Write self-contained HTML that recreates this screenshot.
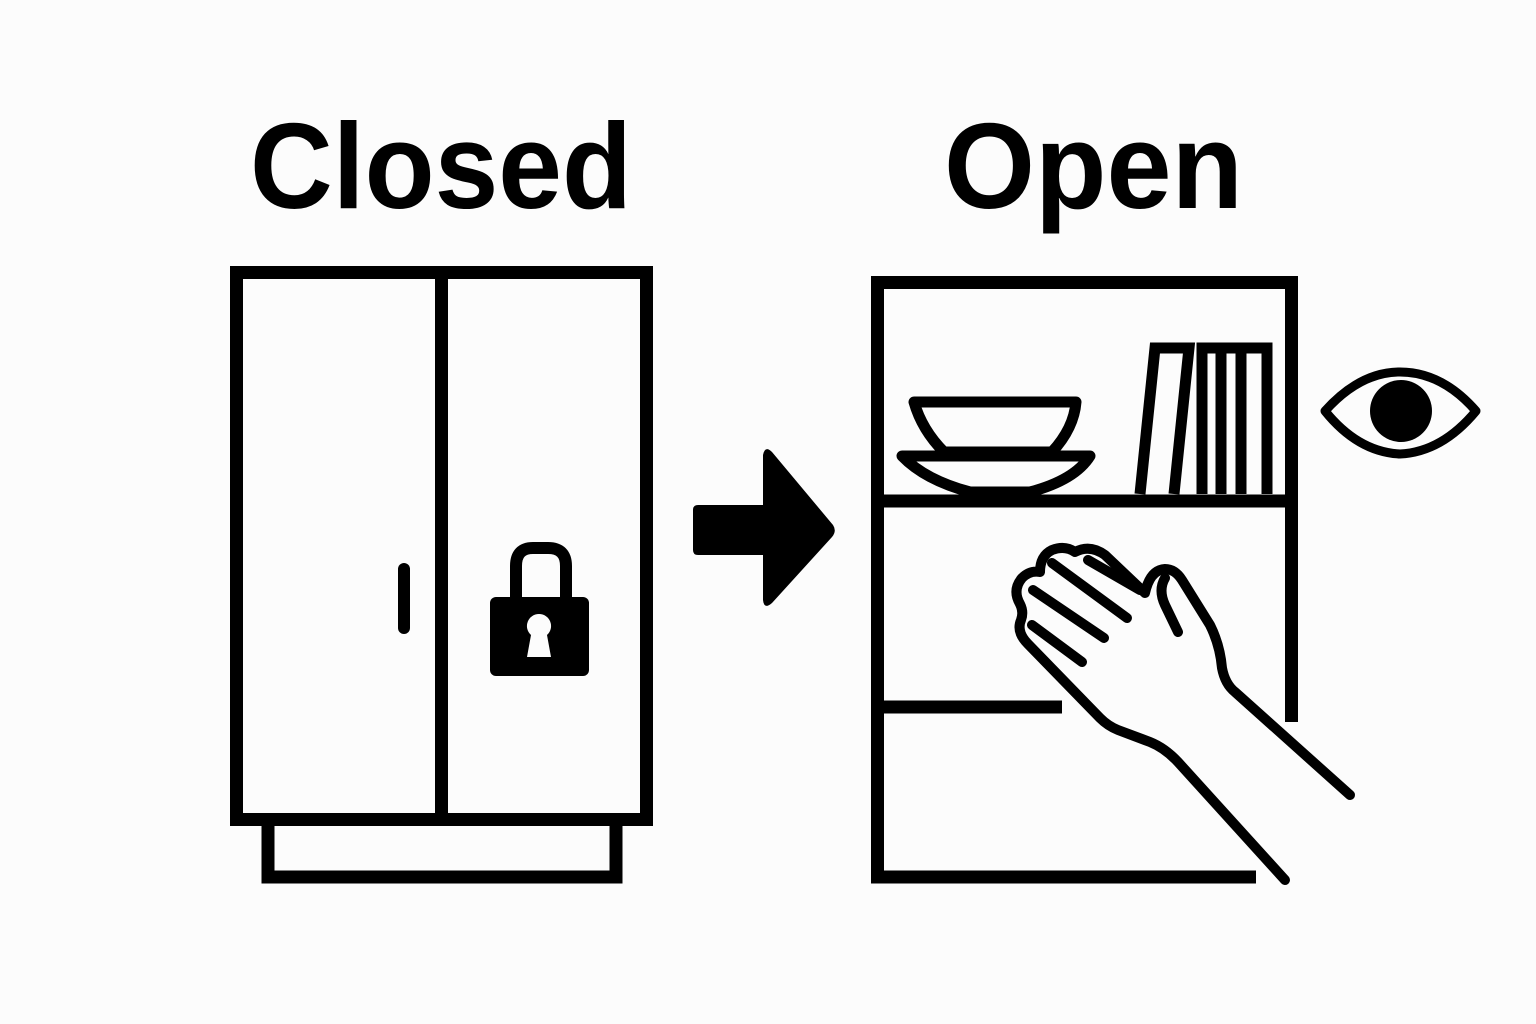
<!DOCTYPE html>
<html><head><meta charset="utf-8"><style>
html,body{margin:0;padding:0;background:#fcfcfc;}
svg{display:block}
</style></head><body>
<svg width="1536" height="1024" viewBox="0 0 1536 1024" xmlns="http://www.w3.org/2000/svg">
<rect width="1536" height="1024" fill="#fcfcfc"/>
<g font-family="Liberation Sans, sans-serif" font-weight="bold" font-size="122" fill="#000">
<text x="250" y="208" textLength="382" lengthAdjust="spacingAndGlyphs">Closed</text>
<text x="944" y="208" textLength="299" lengthAdjust="spacingAndGlyphs">Open</text>
</g>
<!-- Closed cabinet -->
<g fill="none" stroke="#000" stroke-width="13">
<rect x="236.5" y="272.5" width="410" height="547"/>
<line x1="441.5" y1="272" x2="441.5" y2="820"/>
<path d="M268 826 V877 H616 V826"/>
</g>
<rect x="398" y="563" width="12" height="71" rx="6" fill="#000"/>
<path d="M516 598 V566 Q516 548 533 548 H548 Q566 548 566 566 V598" fill="none" stroke="#000" stroke-width="12"/>
<rect x="490" y="597" width="99" height="79" rx="6" fill="#000"/>
<path d="M539 614 a12 12 0 0 1 8 21 l4 22 h-24 l4 -22 a12 12 0 0 1 8 -21z" fill="#fcfcfc"/>
<!-- Arrow -->
<path d="M698 505 H763 V455 Q765 445 772 452 L833 525 Q837 531 832 537 L772 603 Q764 610 763 600 V555 H698 Q693 555 693 550 V510 Q693 505 698 505Z" fill="#000"/>
<!-- Open cabinet -->
<g fill="none" stroke="#000" stroke-width="13">
<path d="M1256 877 H877.5 V282.5 H1291.5 V722"/>
<line x1="878" y1="501" x2="1291" y2="501"/>
<line x1="878" y1="707" x2="1062" y2="707"/>
</g>
<!-- bowl -->
<g fill="none" stroke="#000" stroke-width="11" stroke-linejoin="round">
<path d="M914 402 H1076 Q1074 428 1052 452 H944 Q922 430 914 402Z"/>
<path d="M902 456 H1090 Q1075 480 1030 492 H970 Q925 480 902 456Z"/>
</g>
<!-- books -->
<g fill="none" stroke="#000" stroke-width="11">
<path d="M1140 494 L1155 348 H1189 L1174 494"/>
<path d="M1202 494 V348 H1267 V494"/>
<line x1="1221" y1="350" x2="1221" y2="494"/>
<line x1="1241" y1="350" x2="1241" y2="494"/>
</g>
<!-- eye -->
<path d="M1325 411 Q1360 372 1400 372 Q1442 372 1476 411 Q1442 452 1400 454 Q1358 452 1325 411Z" fill="none" stroke="#000" stroke-width="9" stroke-linejoin="round"/>
<circle cx="1401" cy="411" r="31" fill="#000"/>
<!-- hand -->
<path d="M1285 880 L1178 762 Q1165 748 1150 742 L1118 730 Q1108 726 1100 718 L1028 644 Q1016 632 1021 620 Q1024 612 1020 604 Q1012 590 1022 578 Q1030 570 1040 572 Q1040 556 1052 550 Q1065 545 1075 552 Q1090 544 1105 555 L1145 593 Q1150 570 1165 569 Q1175 569 1182 580 L1210 625 Q1220 645 1222 668 Q1225 684 1235 692 L1350 795" fill="#fcfcfc" stroke="#fcfcfc" stroke-width="22" stroke-linecap="round" stroke-linejoin="round"/>
<path d="M1285 880 L1178 762 Q1165 748 1150 742 L1118 730 Q1108 726 1100 718 L1028 644 Q1016 632 1021 620 Q1024 612 1020 604 Q1012 590 1022 578 Q1030 570 1040 572 Q1040 556 1052 550 Q1065 545 1075 552 Q1090 544 1105 555 L1145 593 Q1150 570 1165 569 Q1175 569 1182 580 L1210 625 Q1220 645 1222 668 Q1225 684 1235 692 L1350 795" fill="none" stroke="#000" stroke-width="10" stroke-linecap="round" stroke-linejoin="round"/>
<g fill="none" stroke="#000" stroke-width="10" stroke-linecap="round">
<path d="M1032 625 L1082 662"/>
<path d="M1033 590 L1104 638"/>
<path d="M1052 563 L1127 618"/>
<path d="M1088 560 L1140 590"/>
<path d="M1165 578 Q1158 590 1165 605 L1178 632"/>
</g>
</svg>
</body></html>
